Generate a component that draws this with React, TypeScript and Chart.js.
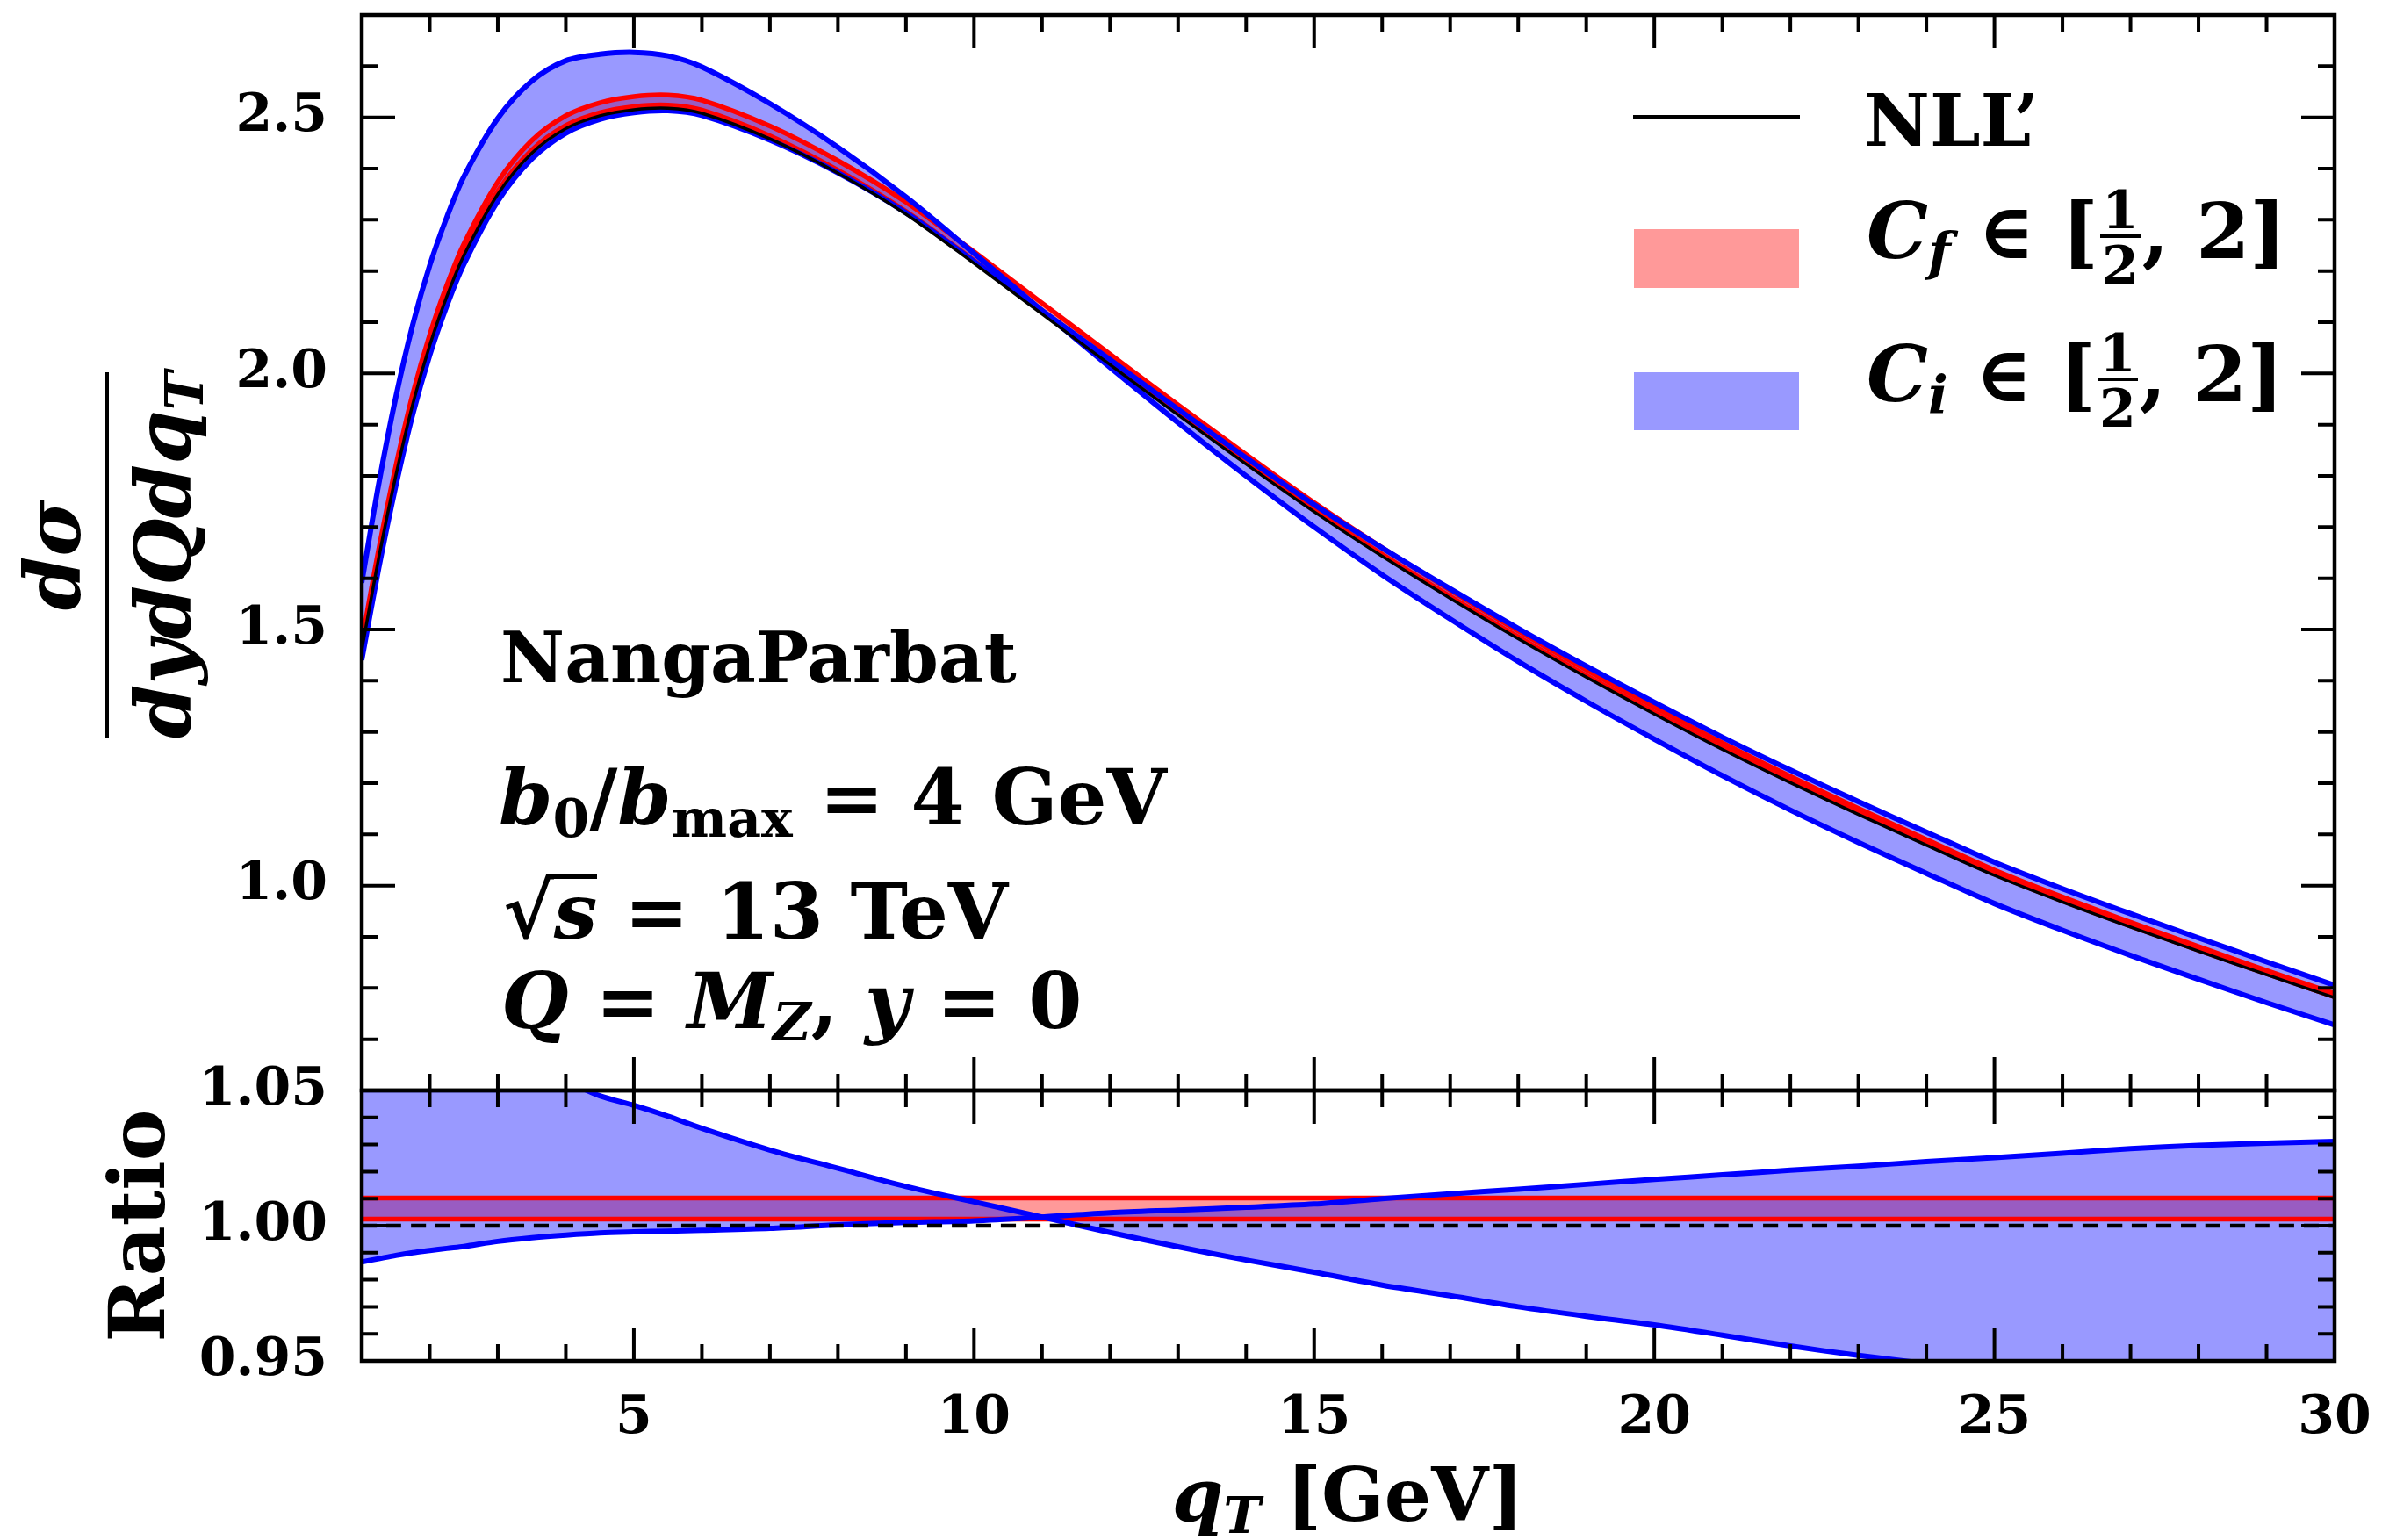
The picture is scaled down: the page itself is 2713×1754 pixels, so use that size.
import React, { useEffect, useRef } from 'react';
import { Chart, registerables } from 'chart.js';

Chart.register(...registerables);

// ---------------- data ----------------
const qT = [1, 1.25, 1.5, 1.75, 2, 2.25, 2.5, 3, 3.5, 4, 4.5, 5, 5.5, 6, 7, 8, 9, 10, 11, 12, 13, 14, 15, 16, 17, 18, 19, 20, 21, 22, 23, 24, 25, 26, 27, 28, 29, 30];

// NLL' central prediction (d sigma / dy dQ dqT)
const nll = [1.46, 1.64, 1.8, 1.94, 2.055, 2.15, 2.23, 2.35, 2.43, 2.478, 2.503, 2.515, 2.518, 2.508, 2.458, 2.391, 2.311, 2.215, 2.116, 2.017, 1.919, 1.823, 1.73, 1.643, 1.561, 1.482, 1.407, 1.335, 1.266, 1.201, 1.139, 1.079, 1.02, 0.968, 0.919, 0.872, 0.826, 0.781];

// C_i variation, ratio to NLL' (the edge that starts high / the edge that starts low)
const ciHiRatio = [1.09, 1.088, 1.085, 1.08, 1.076, 1.072, 1.069, 1.063, 1.058, 1.0535, 1.048, 1.0445, 1.0405, 1.036, 1.028, 1.0212, 1.0145, 1.0088, 1.0032, 0.9975, 0.9922, 0.9873, 0.9828, 0.978, 0.9741, 0.97, 0.9665, 0.9633, 0.9595, 0.9555, 0.952, 0.949, 0.946, 0.943, 0.94, 0.937, 0.934, 0.932];
const ciLoRatio = [0.9866, 0.9878, 0.989, 0.99, 0.9908, 0.9916, 0.9923, 0.9942, 0.9955, 0.9965, 0.9973, 0.9977, 0.998, 0.9983, 0.999, 1.0003, 1.0012, 1.0018, 1.0032, 1.0048, 1.0058, 1.0068, 1.008, 1.01, 1.0118, 1.0135, 1.0153, 1.0171, 1.0188, 1.0205, 1.022, 1.0237, 1.0252, 1.0268, 1.0285, 1.0297, 1.0305, 1.0312];

// C_f variation, ratio to NLL'
const cfUpRatio = [1.0102, 1.0102, 1.0102, 1.0102, 1.0102, 1.0102, 1.0102, 1.0102, 1.0102, 1.0102, 1.0102, 1.0102, 1.0102, 1.0102, 1.0102, 1.0102, 1.0102, 1.0102, 1.0102, 1.0102, 1.0102, 1.0102, 1.0102, 1.0102, 1.0102, 1.0102, 1.0102, 1.0102, 1.0102, 1.0102, 1.0102, 1.0102, 1.0102, 1.0102, 1.0102, 1.0102, 1.0102, 1.0102];
const cfLoRatio = [1.0024, 1.0024, 1.0024, 1.0024, 1.0024, 1.0024, 1.0024, 1.0024, 1.0024, 1.0024, 1.0024, 1.0024, 1.0024, 1.0024, 1.0024, 1.0024, 1.0024, 1.0024, 1.0024, 1.0024, 1.0024, 1.0024, 1.0024, 1.0024, 1.0024, 1.0024, 1.0024, 1.0024, 1.0024, 1.0024, 1.0024, 1.0024, 1.0024, 1.0024, 1.0024, 1.0024, 1.0024, 1.0024];

// ticks
const xMajorTicks = [5, 10, 15, 20, 25, 30];
const xMinorTicks = [2, 3, 4, 6, 7, 8, 9, 11, 12, 13, 14, 16, 17, 18, 19, 21, 22, 23, 24, 26, 27, 28, 29];
const topYMajorTicks = [1.0, 1.5, 2.0, 2.5];
const topYMinorTicks = [0.7, 0.8, 0.9, 1.1, 1.2, 1.3, 1.4, 1.6, 1.7, 1.8, 1.9, 2.1, 2.2, 2.3, 2.4, 2.6];
const ratioYMajorTicks = [0.95, 1.0, 1.05];
const ratioYMinorTicks = [0.96, 0.97, 0.98, 0.99, 1.01, 1.02, 1.03, 1.04];

// ---------------- styling ----------------
const FONT = "'DejaVu Serif', serif";
const RED = '#ff0000';
const BLUE = '#0000ff';
const RED_FILL = 'rgba(255,0,0,0.4)';
const BLUE_FILL = 'rgba(0,0,255,0.4)';

const pts = (ys: number[]) => qT.map((x, i) => ({ x, y: ys[i] }));

const frameTicks: any = {
  id: 'frameTicks',
  afterDatasetsDraw(chart: any, _args: any, opts: any) {
    const { ctx, chartArea } = chart;
    const { left, right, top, bottom } = chartArea;
    const xs = chart.scales.x;
    const ys = chart.scales.y;
    ctx.save();
    ctx.strokeStyle = '#000';
    ctx.lineWidth = 4;
    ctx.lineCap = 'butt';
    const xt = (vals: number[], len: number) => {
      for (const v of vals) {
        const p = xs.getPixelForValue(v);
        ctx.beginPath();
        ctx.moveTo(p, bottom);
        ctx.lineTo(p, bottom - len);
        ctx.moveTo(p, top);
        ctx.lineTo(p, top + len);
        ctx.stroke();
      }
    };
    const yt = (vals: number[], len: number) => {
      for (const v of vals) {
        const p = ys.getPixelForValue(v);
        ctx.beginPath();
        ctx.moveTo(left, p);
        ctx.lineTo(left + len, p);
        ctx.moveTo(right, p);
        ctx.lineTo(right - len, p);
        ctx.stroke();
      }
    };
    xt(opts.xMajor, 38);
    xt(opts.xMinor, 19);
    yt(opts.yMajor, 38);
    yt(opts.yMinor, 19);
    ctx.lineWidth = 4.5;
    ctx.strokeRect(left, top, right - left, bottom - top);
    ctx.restore();
  },
};

const lineDs = (label: string, data: number[], color: string, width: number, order: number, extra: any = {}) => ({
  label,
  data: pts(data),
  borderColor: color,
  borderWidth: width,
  pointRadius: 0,
  tension: 0.3,
  fill: false,
  order,
  ...extra,
});

// y tick labels: small line height so they do not add layout padding above/below the plot
const yTickFont = { family: FONT, size: 60, weight: 'bold' as const, lineHeight: 0.2 };
const xTickFont = { family: FONT, size: 60, weight: 'bold' as const };

// label offset is done through an invisible tick length so it does not widen the layout padding
const hiddenGrid = (len: number) => ({ display: false, drawTicks: true, tickLength: len });

const commonOptions = {
  responsive: false,
  animation: false,
  devicePixelRatio: 1,
  events: [],
  elements: { line: { capBezierPoints: false } },
};

function makeTop(canvas: HTMLCanvasElement) {
  const cfUp = nll.map((v, i) => v * cfUpRatio[i]);
  const cfLo = nll.map((v, i) => v * cfLoRatio[i]);
  const ciHi = nll.map((v, i) => v * ciHiRatio[i]);
  const ciLo = nll.map((v, i) => v * ciLoRatio[i]);
  return new Chart(canvas, {
    type: 'line',
    data: {
      datasets: [
        lineDs('Cf up', cfUp, RED, 5.5, 6, { fill: '+1', backgroundColor: RED_FILL }),
        lineDs('Cf low', cfLo, RED, 5.5, 5),
        lineDs('Ci a', ciHi, BLUE, 6, 4, { fill: '+1', backgroundColor: BLUE_FILL }),
        lineDs('Ci b', ciLo, BLUE, 6, 3),
        lineDs("NLL'", nll, '#000000', 3.5, 1),
      ] as any,
    },
    options: {
      ...commonOptions,
      layout: { padding: { left: 0, right: 54, top: 17, bottom: 20 } },
      plugins: {
        legend: { display: false },
        tooltip: { enabled: false },
        filler: { propagate: false, drawTime: 'beforeDatasetsDraw' },
        frameTicks: { xMajor: xMajorTicks, xMinor: xMinorTicks, yMajor: topYMajorTicks, yMinor: topYMinorTicks },
      } as any,
      scales: {
        x: { type: 'linear', min: 1, max: 30, display: false },
        y: {
          type: 'linear',
          min: 0.6,
          max: 2.7,
          afterBuildTicks: (s: any) => { s.ticks = topYMajorTicks.map((value) => ({ value })); },
          afterFit: (s: any) => { s.width = 412; },
          ticks: { font: yTickFont, color: '#000', padding: 0, autoSkip: false, callback: (v: any) => Number(v).toFixed(1) },
          grid: hiddenGrid(39),
          border: { display: false },
        },
      } as any,
    } as any,
    plugins: [frameTicks],
  });
}

function makeRatio(canvas: HTMLCanvasElement) {
  const unity = nll.map((v) => v / v);
  return new Chart(canvas, {
    type: 'line',
    data: {
      datasets: [
        lineDs('Cf up', cfUpRatio, RED, 5.5, 6, { fill: '+1', backgroundColor: RED_FILL }),
        lineDs('Cf low', cfLoRatio, RED, 5.5, 5),
        lineDs('Ci a', ciHiRatio, BLUE, 6, 4, { fill: '+1', backgroundColor: BLUE_FILL }),
        lineDs('Ci b', ciLoRatio, BLUE, 6, 3),
        lineDs('unity', unity, '#000000', 4.5, 1, { borderDash: [17, 11] }),
      ] as any,
    },
    options: {
      ...commonOptions,
      layout: { padding: { left: 0, right: 54, top: 42, bottom: 0 } },
      plugins: {
        legend: { display: false },
        tooltip: { enabled: false },
        filler: { propagate: false, drawTime: 'beforeDatasetsDraw' },
        frameTicks: { xMajor: xMajorTicks, xMinor: xMinorTicks, yMajor: ratioYMajorTicks, yMinor: ratioYMinorTicks },
      } as any,
      scales: {
        x: {
          type: 'linear',
          min: 1,
          max: 30,
          afterBuildTicks: (s: any) => { s.ticks = xMajorTicks.map((value) => ({ value })); },
          afterFit: (s: any) => { s.height = 204; },
          ticks: { font: xTickFont, color: '#000', padding: 0, autoSkip: false, maxRotation: 0, callback: (v: any) => String(v) },
          grid: hiddenGrid(30),
          border: { display: false },
        },
        y: {
          type: 'linear',
          min: 0.95,
          max: 1.05,
          afterBuildTicks: (s: any) => { s.ticks = ratioYMajorTicks.map((value) => ({ value })); },
          afterFit: (s: any) => { s.width = 412; },
          ticks: { font: yTickFont, color: '#000', padding: 0, autoSkip: false, callback: (v: any) => Number(v).toFixed(2) },
          grid: hiddenGrid(39),
          border: { display: false },
          title: {
            display: true,
            text: 'Ratio',
            color: '#000',
            font: { family: FONT, size: 88, weight: 'bold' },
            padding: { top: 111, bottom: 0 },
          },
        },
      } as any,
    } as any,
    plugins: [frameTicks],
  });
}

// ---------------- text helpers ----------------
function Txt({ x, base, size, children, style }: any) {
  return (
    <div
      style={{
        position: 'absolute',
        left: x,
        top: base - 0.846 * size,
        fontSize: size,
        lineHeight: 1,
        fontFamily: FONT,
        fontWeight: 'bold',
        whiteSpace: 'nowrap',
        color: '#000',
        ...style,
      }}
    >
      {children}
    </div>
  );
}
const I = ({ children }: any) => <span style={{ fontStyle: 'italic' }}>{children}</span>;
const Sub = ({ children }: any) => (
  <span style={{ fontSize: '0.68em', verticalAlign: '-0.24em' }}>{children}</span>
);
function Half() {
  const w = 46;
  const common: any = { position: 'absolute', left: 0, width: w, fontSize: 60, lineHeight: 1, textAlign: 'center', fontStyle: 'normal' };
  return (
    <span style={{ display: 'inline-block', position: 'relative', width: w, height: 0, margin: '0 2px' }}>
      <span style={{ ...common, top: -85 }}>1</span>
      <span style={{ position: 'absolute', left: 0, width: w, top: -27, height: 4, background: '#000' }} />
      <span style={{ ...common, top: -22 }}>2</span>
    </span>
  );
}

export default function App() {
  const topRef = useRef<HTMLCanvasElement>(null);
  const botRef = useRef<HTMLCanvasElement>(null);

  useEffect(() => {
    const c1 = makeTop(topRef.current as HTMLCanvasElement);
    const c2 = makeRatio(botRef.current as HTMLCanvasElement);
    return () => {
      c1.destroy();
      c2.destroy();
    };
  }, []);

  return (
    <div style={{ position: 'fixed', left: 0, top: 0, width: 2713, height: 1754, background: '#ffffff', overflow: 'hidden' }}>
      <canvas ref={topRef} width={2713} height={1262} style={{ position: 'absolute', left: 0, top: 0, width: 2713, height: 1262 }} />
      <canvas ref={botRef} width={2713} height={554} style={{ position: 'absolute', left: 0, top: 1200, width: 2713, height: 554 }} />

      {/* y-axis title of the main panel: fraction, rotated */}
      <div
        style={{
          position: 'absolute',
          left: 123 - 220,
          top: 632 - 107,
          width: 440,
          height: 214,
          transform: 'rotate(-90deg)',
          fontFamily: FONT,
          fontWeight: 'bold',
          color: '#000',
          display: 'flex',
          flexDirection: 'column',
          alignItems: 'center',
        }}
      >
        <div style={{ fontSize: 88, lineHeight: 1, height: 88, fontStyle: 'italic' }}>dσ</div>
        <div style={{ width: 416, height: 4, background: '#000', marginTop: 16 }} />
        <div style={{ fontSize: 88, lineHeight: 1, height: 88, marginTop: 18, whiteSpace: 'nowrap' }}>
          <I>dydQdq</I>
          <Sub><I>T</I></Sub>
        </div>
      </div>

      {/* legend */}
      <div style={{ position: 'absolute', left: 1860, top: 131, width: 190, height: 4, background: '#000' }} />
      <div style={{ position: 'absolute', left: 1861, top: 261, width: 188, height: 67, background: RED_FILL }} />
      <div style={{ position: 'absolute', left: 1861, top: 424, width: 188, height: 66, background: BLUE_FILL }} />
      <Txt x={2123} base={165} size={82}>NLL’</Txt>
      <Txt x={2126} base={293} size={88}>
        <I>C</I><Sub><I>f</I></Sub> ∈ [<Half />, 2]
      </Txt>
      <Txt x={2126} base={456} size={88}>
        <I>C</I><Sub><I>i</I></Sub> ∈ [<Half />, 2]
      </Txt>

      {/* annotations */}
      <Txt x={570} base={777} size={80}>NangaParbat</Txt>
      <Txt x={568} base={938} size={88}>
        <I>b</I><Sub>0</Sub>/<I>b</I><Sub>max</Sub> = 4 GeV
      </Txt>
      <Txt x={573} base={1068} size={88}>
        √<span style={{ position: 'relative' }}>
          <span style={{ position: 'absolute', left: -4, right: 0, top: 10, height: 5, background: '#000' }} />
          <I>s</I>
        </span> = 13 TeV
      </Txt>
      <Txt x={571} base={1170} size={88}>
        <I>Q</I> = <I>M</I><Sub><I>Z</I></Sub>, <I>y</I> = 0
      </Txt>

      {/* x-axis title */}
      <Txt x={1135} base={1732} size={84} style={{ width: 800, textAlign: 'center' }}>
        <I>q</I><Sub><I>T</I></Sub> [GeV]
      </Txt>
    </div>
  );
}
